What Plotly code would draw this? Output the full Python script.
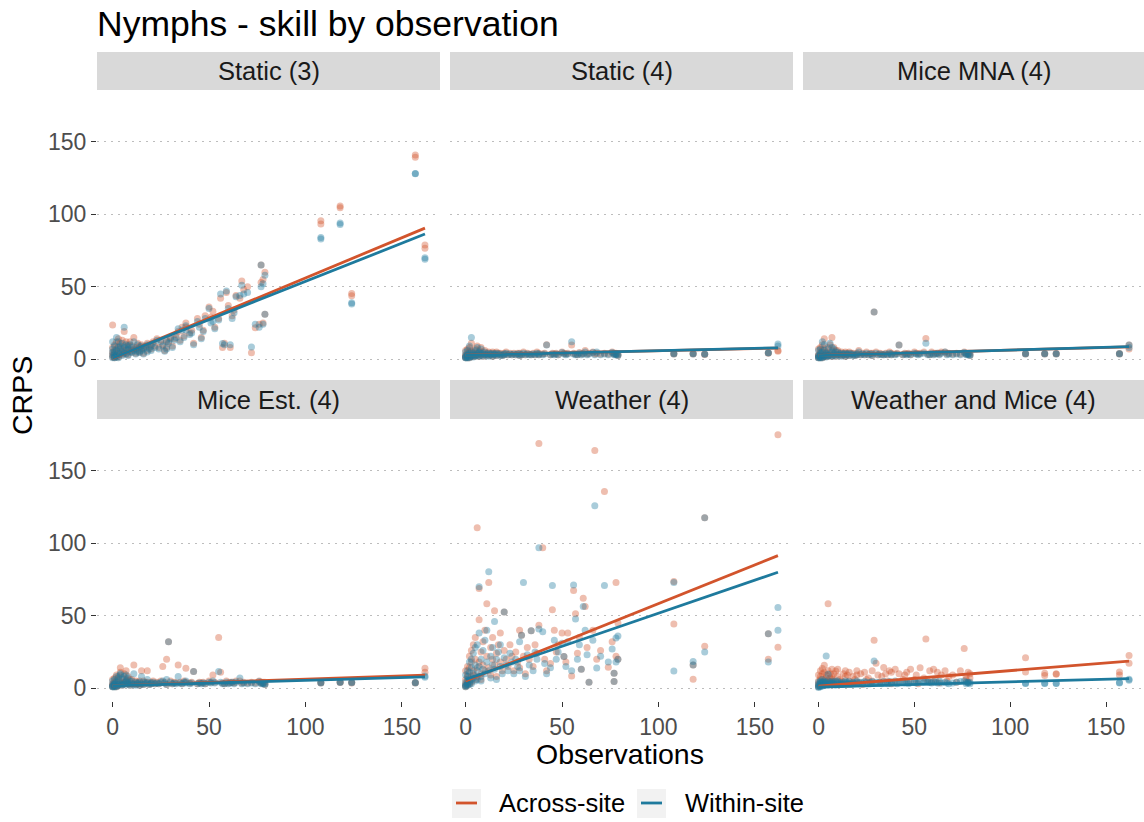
import plotly.graph_objects as go

# ---------------- data ----------------
panels = ["Static (3)", "Static (4)", "Mice MNA (4)",
          "Mice Est. (4)", "Weather (4)", "Weather and Mice (4)"]

observations = [
    0, 0, 0, 0, 0, 1, 1, 1, 1, 1,
    2, 2, 2, 2, 3, 3, 3, 3, 4, 4,
    4, 5, 5, 5, 6, 6, 6, 7, 7, 7,
    8, 8, 8, 9, 9, 10, 10, 11, 11, 12,
    12, 13, 13, 14, 14, 15, 15, 16, 16, 17,
    18, 18, 19, 20, 20, 21, 22, 23, 24, 25,
    26, 27, 28, 28, 29, 30, 31, 32, 33, 34,
    35, 36, 37, 38, 38, 40, 41, 42, 44, 45,
    46, 47, 48, 50, 51, 52, 53, 55, 56, 57,
    58, 59, 60, 61, 62, 63, 64, 66, 67, 68,
    70, 72, 74, 76, 77, 77, 78, 78, 79, 79,
    108, 108, 118, 118, 124, 124, 157, 157, 162, 162,
]

static3_across = [
    1.5, 3, 5, 23.5, 8, 2, 4, 6, 10, 1,
    3, 7, 12, 2, 5, 9, 14, 1.5, 4, 8,
    11, 3, 6, 13, 5, 9, 19, 4, 7, 12,
    3, 8, 10, 6, 12, 5, 9, 7, 15, 4,
    8, 6, 11, 5, 9, 7, 10, 8, 4, 9,
    6, 11, 8, 10, 7, 12, 9, 14, 8, 13,
    10, 6, 13, 8, 12, 15, 9, 14, 17, 19,
    13, 22, 16, 25, 22, 18, 20, 11, 28, 24,
    15, 20, 30, 36, 29, 33, 22, 28, 42, 8,
    11, 46, 37, 8, 30, 34, 44, 42, 54, 48,
    50, 4.4, 21.6, 24, 65, 53, 25, 55, 31, 60,
    95.6, 93.3, 105.7, 104.5, 45.4, 43.7, 141, 139.4, 78.8, 76.5,
]
static3_within = [
    1, 2.5, 4.5, 12, 7, 1.5, 3, 5, 9, 1,
    2.5, 6, 15, 1.5, 4, 8, 12, 1, 3.5, 7,
    9, 2.5, 5, 11, 4, 8, 22, 3.5, 6, 10,
    2.5, 7, 9, 5, 10, 4.5, 8, 6, 12, 3.5,
    7, 5, 10, 4.5, 8, 6, 9, 7, 3.5, 8,
    5, 10, 7, 9, 6, 11, 8, 13, 7, 12,
    9, 5.5, 12, 7, 11, 14, 8, 13, 15, 21,
    12, 20, 15, 23, 20, 17, 18, 10, 26, 22,
    14, 19, 28, 35, 25, 26, 21, 27, 45, 10.8,
    10, 47, 35, 10, 28, 32, 43, 44, 51, 45,
    46, 8.4, 24, 22, 65, 50, 24, 52, 31, 58,
    84, 83, 94, 93, 38, 39, 128.3, 128, 69, 70,
]

static4_across = [
    1, 2, 3, 6, 1.5, 2, 4, 1, 7, 3,
    2, 5, 8, 1, 3, 6, 2, 11, 4, 2,
    5, 3, 7, 2, 4, 9, 3, 5, 2, 6,
    3, 8, 4, 2, 5, 3, 6, 4, 3, 5,
    2.5, 4, 3, 5, 2, 4, 3, 5, 2.5, 4,
    3, 4, 2.5, 4, 3, 5, 3, 4, 3, 4,
    3, 4, 2.5, 4, 3, 5, 3, 4, 3.5, 3,
    4, 3, 5, 3, 4, 3.5, 4, 10, 3, 4,
    3.5, 4, 3, 5, 4, 3.5, 4, 9.7, 4, 3.5,
    3, 4.5, 3.5, 4, 6, 3.5, 4, 5, 3.5, 4,
    3.5, 4, 3.5, 5, 4, 3.5, 4, 3.5, 2.5, 3.5,
    3.9, 3.5, 3.9, 3.5, 3.5, 3.2, 4.4, 4, 6, 5.5,
]
static4_within = [
    1, 1.5, 2.5, 5, 1, 1.5, 3, 0.8, 6, 2.5,
    1.5, 4, 9, 1, 2.5, 5, 2, 15, 3, 1.5,
    4, 2.5, 6, 2, 3.5, 8, 2.5, 4, 2, 5,
    2.5, 7, 3.5, 2, 4, 3, 5, 3.5, 2.5, 4,
    2, 3.5, 3, 4, 2, 3.5, 3, 4, 2.5, 3.5,
    2.5, 3.5, 2.5, 3.5, 3, 4, 3, 3.5, 3, 3.5,
    3, 3.5, 2.5, 3.5, 3, 4, 3, 3.5, 3, 3,
    3.5, 3, 4, 3, 3.5, 3, 3.5, 9.7, 3, 3.5,
    3, 3.5, 3, 4.5, 3.5, 3, 3.5, 12, 3.5, 3,
    3, 4, 3, 3.5, 5, 3, 3.5, 4.5, 3, 5,
    3, 3.5, 3, 4.5, 3.5, 3, 3.5, 3, 2.5, 3,
    3.9, 3.6, 3.9, 3.6, 3.5, 3.3, 4.4, 4.2, 10.5, 9,
]

mice_mna_across = [
    1, 2.5, 3, 7, 1.5, 2, 5, 1, 8, 3,
    2, 6, 10, 1, 3, 7, 2, 14, 4, 2,
    5, 3, 8, 2, 4, 10, 3, 15, 2, 6,
    3, 8, 4, 2, 6, 3, 6, 4, 3, 5,
    2.5, 4, 3, 5, 2, 4, 3, 5, 2.5, 4,
    3, 4, 2.5, 4, 3, 6, 3, 4, 3, 5,
    3, 4, 2.5, 4, 32.5, 5, 3, 4, 3.5, 3,
    4, 3, 5, 3, 4, 3.5, 4, 9.7, 3, 4,
    3.5, 4, 3, 5, 4, 3.5, 4, 5, 14.3, 3.5,
    3, 5, 3.5, 4, 4, 3.5, 5, 5, 3.5, 4,
    3.5, 4, 3.5, 5, 4, 3.5, 4, 3.5, 2.5, 4,
    3.9, 3.5, 3.9, 3.5, 3.9, 3.5, 3.9, 3.5, 9.7, 7,
]
mice_mna_within = [
    1, 2, 2.5, 6, 1, 1.5, 4, 0.8, 7, 2.5,
    1.5, 5, 12, 1, 2.5, 6, 2, 10, 3, 1.5,
    4, 2.5, 7, 2, 3.5, 11, 2.5, 8, 2, 5,
    2.5, 7, 3.5, 2, 5, 3, 5, 3.5, 2.5, 4,
    2, 3.5, 3, 4, 2, 3.5, 3, 4, 2.5, 3.5,
    2.5, 3.5, 2.5, 3.5, 3, 5, 3, 3.5, 3, 4,
    3, 3.5, 2.5, 3.5, 32.5, 4, 3, 3.5, 3, 3,
    3.5, 3, 4, 3, 3.5, 3, 3.5, 9.7, 3, 3.5,
    3, 3.5, 3, 4, 3.5, 3, 3.5, 4, 11, 3,
    3, 4, 3, 3.5, 4, 3, 4, 5, 3, 3.5,
    3, 3.5, 3, 4.5, 3.5, 3, 3.5, 3, 2.5, 3,
    3.9, 3.6, 3.9, 3.6, 3.9, 3.6, 3.9, 3.6, 9.7, 8,
]

mice_est_across = [
    1, 2, 3, 6, 1.5, 2, 4, 1, 7, 3,
    2, 5, 9, 1, 3, 6, 2, 8, 4, 11,
    14, 3, 7, 2, 4, 10, 3, 5, 12, 6,
    3, 8, 4, 2, 6, 3, 6, 16, 3, 5,
    2.5, 4, 3, 5, 2, 12, 3, 5, 2.5, 4,
    12, 4, 2.5, 4, 3, 5, 3, 4, 3, 5,
    15, 4, 20, 2.5, 32, 5, 3, 4, 3.5, 16,
    4, 3, 5, 13.7, 4, 3.5, 4, 11.4, 3, 4,
    3.5, 4, 3, 5, 4, 9, 4, 35, 11, 3.5,
    3, 5, 3.5, 4, 4, 3.5, 5, 5, 3.5, 4,
    3.5, 4, 3.5, 5, 4, 3.5, 4, 3.5, 2.5, 4,
    3.9, 3.5, 4.3, 3.8, 4, 3.6, 3.9, 3.5, 13.7, 11,
]
mice_est_within = [
    1, 1.5, 2.5, 5, 1, 1.5, 3, 0.8, 6, 2.5,
    1.5, 4, 8, 1, 2.5, 5, 2, 7, 3, 9,
    10, 2.5, 6, 2, 3.5, 8, 2.5, 4, 9, 5,
    2.5, 7, 3.5, 2, 5, 3, 5, 10, 2.5, 4,
    2, 3.5, 3, 4, 2, 8, 3, 4, 2.5, 3.5,
    6, 3.5, 2.5, 3.5, 3, 4, 3, 3.5, 3, 4,
    5, 3.5, 6, 2.5, 32, 4, 3, 3.5, 3, 8,
    3.5, 3, 4, 5, 3.5, 3, 3.5, 11.4, 3, 3.5,
    3, 3.5, 3, 4, 3.5, 5, 3.5, 11.4, 4, 3,
    3, 4, 3, 3.5, 4, 3, 4, 7, 3, 3.5,
    3, 3.5, 3, 4.5, 3.5, 3, 3.5, 3, 2.5, 3,
    3.9, 3.6, 4.3, 3.9, 4, 3.7, 3.9, 3.6, 8.4, 7.5,
]

weather_across = [
    1, 3, 6, 12, 2, 4, 8, 15, 2, 10,
    5, 14, 22, 3, 8, 18, 4, 26, 9, 30,
    12, 6, 20, 35, 110.7, 14, 8, 68.8, 47.3, 18,
    10, 25, 6, 16, 32, 12, 40, 58.2, 22, 73,
    14, 28, 9, 20, 35, 53.4, 16, 24, 8, 30,
    18, 38, 12, 26, 52.5, 20, 15, 30, 22, 12,
    25, 18, 40, 14, 36.5, 22, 10, 28, 20, 39.7,
    15, 30, 24, 169, 43.4, 97, 20, 12, 17, 54.1,
    40, 25, 30, 38, 21.9, 18, 38, 8.4, 67.4, 51.4,
    24, 35, 13, 62.1, 56.4, 28, 4.1, 40, 164.2, 20,
    26, 135.8, 14.5, 32, 10.3, 4.6, 73, 22, 19.9, 45,
    73.7, 44.3, 6.2, 16, 29, 117.6, 37.5, 20, 175.1, 28.3,
]
weather_within = [
    1, 2, 4, 9, 1.5, 3, 6, 12, 2, 8,
    4, 11, 18, 2.5, 6, 14, 3, 20, 7, 24,
    10, 5, 16, 28, 30, 12, 6, 70, 38, 15,
    8, 20, 5, 13, 26, 10, 33, 40, 18, 80.4,
    12, 22, 7, 16, 28, 46.1, 13, 20, 6, 25,
    15, 30, 10, 21, 52.5, 16, 12, 24, 18, 10,
    20, 15, 32, 12, 36.5, 73, 8, 23, 16, 39.7,
    12, 25, 20, 97, 40.8, 39, 17, 10, 14, 70.8,
    33, 20, 25, 31, 21.9, 15, 32, 12, 71.2, 47.7,
    20, 30, 13, 56.4, 40, 23, 4.1, 33, 126, 13.9,
    22, 70.8, 18, 27, 10.3, 4.6, 34.7, 18, 19.9, 36,
    73, 11.9, 18.3, 16, 25, 117.6, 37.5, 18, 55.7, 40,
]

weather_mice_across = [
    1, 3, 5, 9, 2, 3, 6, 12, 2, 8,
    4, 10, 13.5, 3, 6, 15.8, 4, 11, 7, 5,
    9, 4, 12, 58.2, 7, 10, 5, 13, 8, 6,
    5, 10, 3, 11.9, 4, 8, 13, 6, 2.5, 5,
    4, 10, 3, 8, 12, 2.5, 9, 5, 11, 3.5,
    8, 3, 6, 9, 12, 4, 10, 2.5, 11, 6,
    7, 3, 12, 5, 33.1, 17.1, 9, 4, 8, 14.2,
    10, 5, 12, 3, 11, 13, 4, 10, 6, 9,
    11, 4, 13, 6, 9, 3, 14, 7, 34, 5,
    12, 4, 13, 6, 11, 3.5, 9, 12, 5, 8,
    9, 4, 12, 27.4, 6, 8, 11, 4, 10, 7,
    21, 11.2, 10.3, 8.7, 10, 9.5, 11.2, 9, 22.6, 17.1,
]
weather_mice_within = [
    0.5, 1.5, 2.5, 4, 1, 1.5, 3, 5, 1, 4,
    2, 4, 6, 1.5, 3, 5, 2, 4, 22.1, 3,
    4, 2, 5, 9.6, 3, 4, 2.5, 5, 3, 3.5,
    2.5, 4, 3, 5, 2, 3.5, 5, 3, 4, 2.5,
    3, 4, 2.5, 3.5, 5, 3, 4, 3, 4.5, 2.5,
    3.5, 4, 3, 4, 5, 3, 4, 3.5, 4.5, 4,
    3, 4, 4.5, 3.5, 18.7, 4, 3.5, 4, 3, 4.5,
    4, 3, 4.5, 3.5, 4, 5, 3, 4, 4.5, 3.5,
    4, 3, 5, 4, 3.5, 4.5, 5, 4, 4.5, 4,
    4, 3.5, 4.5, 4, 3.5, 5, 3.5, 4, 3.5, 3,
    3.5, 4, 4.5, 5, 4, 3, 4, 3.5, 4, 3,
    3.4, 3.2, 3.4, 3.2, 3.4, 3.2, 3.9, 3.6, 6.2, 5.5,
]

# linear-fit endpoints (at x = fit_x)
fit_x = [0, 162]
fit_static3_across = [0.5, 90.5]
fit_static3_within = [0.8, 86.4]
fit_static4_across = [2.8, 7.6]
fit_static4_within = [2.6, 7.8]
fit_mna_across = [2.5, 8.5]
fit_mna_within = [2.4, 8.6]
fit_est_across = [1.6, 8.9]
fit_est_within = [1.6, 7.7]
fit_weather_across = [5.0, 91.5]
fit_weather_within = [6.0, 80.0]
fit_wm_across = [1.4, 18.7]
fit_wm_within = [0.7, 6.6]

yticks = [0, 50, 100, 150]
xticks = [0, 50, 100, 150]

across_vals = [static3_across, static4_across, mice_mna_across,
               mice_est_across, weather_across, weather_mice_across]
within_vals = [static3_within, static4_within, mice_mna_within,
               mice_est_within, weather_within, weather_mice_within]
fit_across = [fit_static3_across, fit_static4_across, fit_mna_across,
              fit_est_across, fit_weather_across, fit_wm_across]
fit_within = [fit_static3_within, fit_static4_within, fit_mna_within,
              fit_est_within, fit_weather_within, fit_wm_within]

# ---------------- style ----------------
W, H = 1144, 822
ORANGE = "#D2542C"
BLUE = "#1E7A9D"
FONT = "Liberation Sans"
col_px = [(97, 440), (450, 793), (803, 1144)]
row_px = [(90, 372), (419, 701)]
strip_px = [(52, 90), (380, 419)]


def px_x(x):
    return x / W


def px_y(y):
    return 1 - y / H


fig = go.Figure()

# points first
for i in range(6):
    ax = "" if i == 0 else str(i + 1)
    for vals, col in ((across_vals[i], ORANGE), (within_vals[i], BLUE)):
        fig.add_trace(go.Scatter(
            x=observations, y=vals, mode="markers",
            marker=dict(color=col, size=7, opacity=0.38, line=dict(width=0)),
            xaxis="x" + ax, yaxis="y" + ax, showlegend=False,
            hoverinfo="skip"))
# fit lines
for i in range(6):
    ax = "" if i == 0 else str(i + 1)
    for vals, col in ((fit_across[i], ORANGE), (fit_within[i], BLUE)):
        fig.add_trace(go.Scatter(
            x=fit_x, y=vals, mode="lines",
            line=dict(color=col, width=2.8),
            xaxis="x" + ax, yaxis="y" + ax, showlegend=False))

layout = dict(
    width=W, height=H, margin=dict(l=0, r=0, t=0, b=0),
    paper_bgcolor="white", plot_bgcolor="white",
    font=dict(family=FONT, color="#1A1A1A"),
    showlegend=False,
    title=dict(text="Nymphs - skill by observation", x=px_x(97),
               xanchor="left", xref="paper", y=px_y(24), yanchor="middle",
               yref="paper", font=dict(size=35.5, color="black", family=FONT)),
)

shapes = []
annotations = []
for i in range(6):
    r, c = divmod(i, 3)
    ax = "" if i == 0 else str(i + 1)
    x0, x1 = col_px[c]
    y0, y1 = row_px[r]
    bottom = r == 1
    left = c == 0
    layout["xaxis" + ax] = dict(
        domain=[px_x(x0), px_x(x1)], anchor="y" + ax,
        range=[-8.1, 169.8], showgrid=False, zeroline=False,
        showline=False, tickvals=xticks,
        showticklabels=bottom, ticks="outside" if bottom else "",
        ticklen=5, tickwidth=1.3, tickcolor="#333333",
        tickfont=dict(size=23, color="#4D4D4D", family=FONT))
    layout["yaxis" + ax] = dict(
        domain=[px_y(y1), px_y(y0)], anchor="x" + ax,
        range=[-8.9, 185.9], showgrid=True, gridcolor="#BDBDBD",
        gridwidth=1.3, griddash="2px,5px", zeroline=False,
        showline=False, tickvals=yticks,
        showticklabels=left, ticks="outside" if left else "",
        ticklen=5, tickwidth=1.3, tickcolor="#333333",
        tickfont=dict(size=23, color="#4D4D4D", family=FONT))
    sy0, sy1 = strip_px[r]
    shapes.append(dict(type="rect", xref="paper", yref="paper",
                       x0=px_x(x0), x1=px_x(x1), y0=px_y(sy1), y1=px_y(sy0),
                       fillcolor="#D9D9D9", line=dict(width=0), layer="below"))
    annotations.append(dict(text=panels[i], xref="paper", yref="paper",
                            x=px_x((x0 + x1) / 2), y=px_y((sy0 + sy1) / 2),
                            xanchor="center", yanchor="middle", showarrow=False,
                            font=dict(size=25.5, color="#1A1A1A", family=FONT)))

# axis titles
annotations.append(dict(text="CRPS", xref="paper", yref="paper",
                        x=px_x(22), y=px_y(396), textangle=-90,
                        xanchor="center", yanchor="middle", showarrow=False,
                        font=dict(size=28.5, color="black", family=FONT)))
annotations.append(dict(text="Observations", xref="paper", yref="paper",
                        x=px_x(620), y=px_y(754),
                        xanchor="center", yanchor="middle", showarrow=False,
                        font=dict(size=28.5, color="black", family=FONT)))

# legend (bottom centre)
legend_items = [("Across-site", ORANGE, 452, 497), ("Within-site", BLUE, 637, 683)]
for label, col, kx, tx in legend_items:
    shapes.append(dict(type="rect", xref="paper", yref="paper",
                       x0=px_x(kx), x1=px_x(kx + 29), y0=px_y(818), y1=px_y(789),
                       fillcolor="#F2F2F2", line=dict(width=0)))
    shapes.append(dict(type="line", xref="paper", yref="paper",
                       x0=px_x(kx + 4), x1=px_x(kx + 25), y0=px_y(803), y1=px_y(803),
                       line=dict(color=col, width=2.8)))
    annotations.append(dict(text=label, xref="paper", yref="paper",
                            x=px_x(tx), y=px_y(803), xanchor="left",
                            yanchor="middle", showarrow=False,
                            font=dict(size=25.5, color="black", family=FONT)))

layout["shapes"] = shapes
layout["annotations"] = annotations
fig.update_layout(**layout)

fig.write_html("out.html")
